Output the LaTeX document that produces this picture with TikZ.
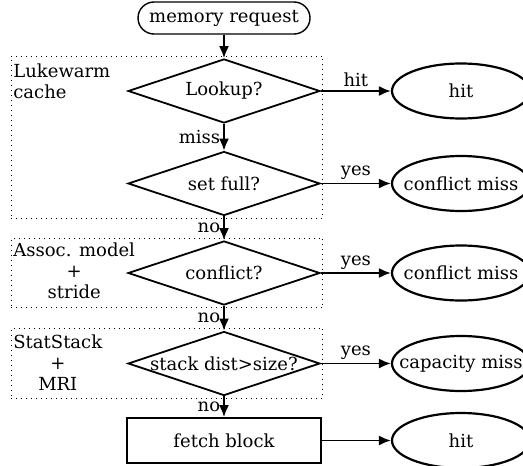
\documentclass[tikz,border=0pt]{standalone}
\usepackage{fontspec}
\setmainfont{DejaVu Serif}
\usetikzlibrary{arrows.meta,positioning,fit,shapes.geometric}

\begin{document}
\begin{tikzpicture}[
  x=0.5pt, y=-0.5pt,
  font=\fontsize{9}{10.5}\selectfont,
  startbox/.style={draw,line width=0.7pt,rounded corners=8pt,minimum width=86pt,
                   minimum height=16pt,inner sep=2pt},
  dec/.style={diamond,draw,line width=0.9pt,aspect=3,inner sep=0pt,
              minimum width=96pt,minimum height=32pt},
  proc/.style={draw,line width=0.9pt,minimum width=97pt,minimum height=22.5pt},
  term/.style={ellipse,draw,line width=1.1pt,inner xsep=-7pt,inner ysep=0pt,
               minimum width=69pt,minimum height=27.5pt},
  grp/.style={draw,dotted,line width=0.5pt,inner sep=1pt},
  grplbl/.style={anchor=north west,inner sep=0pt,align=center},
  lbl/.style={inner sep=1.5pt},
  arr/.style={-{Latex[length=6pt,width=5pt]},line width=0.9pt}
]
\useasboundingbox (0,0) rectangle (523,465);

% main column
\node[startbox] (req) at (224,18) {memory request};
\node[dec] (lookup) at (224,91) {Lookup?};
\node[dec] (setfull) at (224,183.5) {set full?};
\node[dec] (confl) at (224,273) {conflict?};
\node[dec] (dist) at (224,363.5) {stack dist>size?};
\node[proc] (fetch) at (224,440.5) {fetch block};

% outcomes
\node[term,right=35pt of lookup] (hitA) {hit};
\node[term,right=35pt of setfull] (cmissA) {conflict miss};
\node[term,right=35pt of confl] (cmissB) {conflict miss};
\node[term,right=35pt of dist] (capmiss) {capacity miss};
\node[term,right=34.5pt of fetch] (hitB) {hit};

% model groups
\node[grplbl,align=left] (lwlbl) at (13,63) {Lukewarm\\cache};
\node[grp,fit=(lwlbl)(lookup.north)(lookup.east)(setfull.south)] (lwgrp) {};
\node[grplbl] (aslbl) at (13,242) {Assoc. model\\+\\stride};
\node[grp,fit=(aslbl)(confl.north)(confl.east)(confl.south)] (asgrp) {};
\node[grplbl] (sslbl) at (13,334) {StatStack\\+\\MRI};
\node[grp,fit=(sslbl)(dist.north)(dist.east)(dist.south)] (ssgrp) {};

\draw[arr] (req) -- (lookup);
\draw[arr] (lookup) -- node[lbl,above] {hit} (hitA);
\draw[arr] (lookup) -- node[lbl,left] {miss} (setfull);
\draw[arr] (setfull) -- node[lbl,above] {yes} (cmissA);
\draw[arr] (setfull) -- node[lbl,left] {no} (confl);
\draw[arr] (confl) -- node[lbl,above] {yes} (cmissB);
\draw[arr] (confl) -- node[lbl,left] {no} (dist);
\draw[arr] (dist) -- node[lbl,above] {yes} (capmiss);
\draw[arr] (dist) -- node[lbl,left] {no} (fetch);
\draw[arr] (fetch) -- (hitB);
\end{tikzpicture}
\end{document}
